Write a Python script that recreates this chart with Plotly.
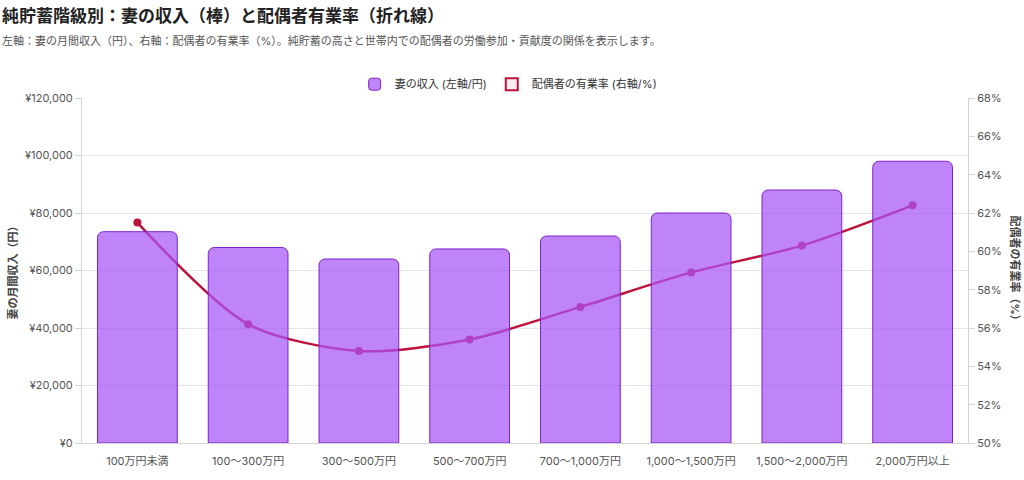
import plotly.graph_objects as go

# 純貯蓄階級
categories = [
    "100万円未満", "100～300万円", "300～500万円", "500～700万円",
    "700～1,000万円", "1,000～1,500万円", "1,500～2,000万円", "2,000万円以上",
]
wife_income = [73500, 68000, 64000, 67500, 72000, 80000, 88000, 98000]   # 円/月
spouse_work_rate = [61.5, 56.2, 54.8, 55.4, 57.1, 58.9, 60.3, 62.4]     # %

FONT = "Inter, 'Noto Sans CJK JP', sans-serif"
BAR_FILL = "rgba(168,85,247,0.72)"
BAR_EDGE = "#7e22ce"
LINE_COLOR = "#be123c"

fig = go.Figure()

# line first (on y), bars on the overlaying axis so they sit on top like the original
fig.add_trace(go.Scatter(
    x=categories, y=spouse_work_rate, yaxis="y",
    mode="lines+markers",
    line=dict(color=LINE_COLOR, width=2.5, shape="spline", smoothing=0.8),
    marker=dict(color=LINE_COLOR, size=8),
    name="配偶者の有業率 (右軸/%)", showlegend=False,
))
fig.add_trace(go.Bar(
    x=categories, y=wife_income, yaxis="y2",
    marker=dict(color=BAR_FILL, line=dict(color=BAR_EDGE, width=1), cornerradius=6),
    name="妻の収入 (左軸/円)",
))
# legend entry styled like the original box for the line series
fig.add_trace(go.Bar(
    x=[None], y=[None], yaxis="y2",
    marker=dict(color="rgba(190,18,60,0.08)", line=dict(color=LINE_COLOR, width=2)),
    name="配偶者の有業率 (右軸/%)",
))

axis_font = dict(family=FONT, size=11, color="#555")

fig.update_layout(
    width=1024, height=480,
    margin=dict(l=82, r=56, t=98, b=37),
    paper_bgcolor="white", plot_bgcolor="white",
    font=dict(family=FONT, size=11, color="#444"),
    bargap=0.28,
    barmode="overlay",
    xaxis=dict(
        type="category", tickfont=axis_font, showgrid=False,
        showline=True, linecolor="#d4d4d4",
        ticks="outside", ticklen=8, tickcolor="rgba(0,0,0,0)",
    ),
    yaxis=dict(
        side="right", range=[50, 68], dtick=2, ticksuffix="%",
        tickfont=axis_font, showgrid=False, zeroline=False,
        showline=True, linecolor="#d4d4d4", ticks="outside", ticklen=6,
        tickcolor="#d4d4d4",
    ),
    yaxis2=dict(
        side="left", overlaying="y", range=[0, 120000], dtick=20000,
        tickprefix="¥", tickformat=",", tickfont=axis_font,
        showgrid=True, gridcolor="#e5e5e5", zeroline=False,
        showline=True, linecolor="#d4d4d4", ticks="outside", ticklen=6,
        tickcolor="#d4d4d4",
    ),
    legend=dict(
        orientation="h", x=0.481, xanchor="center", y=1.04, yanchor="middle",
        font=dict(family=FONT, size=11, color="#333"),
        bgcolor="rgba(0,0,0,0)",
    ),
    showlegend=True,
    hovermode="x",
)

fig.add_annotation(
    text="<b>純貯蓄階級別：妻の収入（棒）と配偶者有業率（折れ線）</b>",
    xref="paper", yref="paper", x=0, y=1, xanchor="left", yanchor="top",
    xshift=-82, yshift=94, showarrow=False,
    font=dict(family=FONT, size=17, color="#222"),
)
fig.add_annotation(
    text="左軸：妻の月間収入（円）、右軸：配偶者の有業率（%）。純貯蓄の高さと世帯内での配偶者の労働参加・貢献度の関係を表示します。",
    xref="paper", yref="paper", x=0, y=1, xanchor="left", yanchor="top",
    xshift=-82, yshift=66, showarrow=False,
    font=dict(family=FONT, size=11, color="#555"),
)
fig.add_annotation(
    text="<b>妻の月間収入（円）</b>", textangle=-90,
    xref="paper", yref="paper", x=0, y=0.5, xanchor="center", yanchor="middle",
    xshift=-70, showarrow=False, font=dict(family=FONT, size=11, color="#444"),
)
fig.add_annotation(
    text="<b>配偶者の有業率（%）</b>", textangle=90,
    xref="paper", yref="paper", x=1, y=0.5, xanchor="center", yanchor="middle",
    xshift=47, showarrow=False, font=dict(family=FONT, size=11, color="#444"),
)

# drop the browser's default body margin so the 1024x480 figure fills the window
fig.write_html(
    "out.html",
    config={"displayModeBar": False},
    post_script="document.body.style.margin='0';",
)
